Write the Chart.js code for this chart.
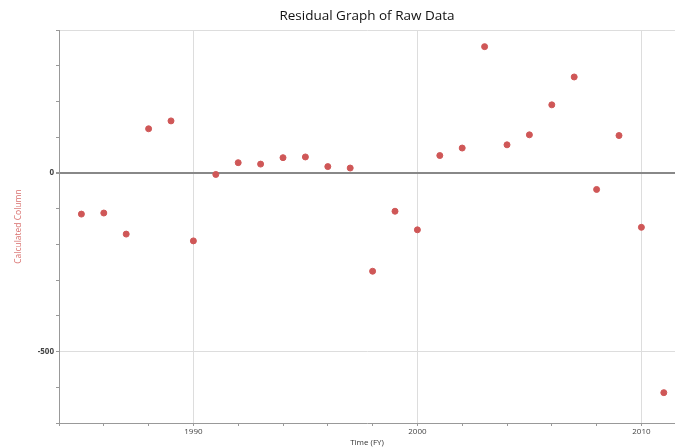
<!DOCTYPE html>
<html>
<head>
<meta charset="utf-8">
<script src="https://cdn.jsdelivr.net/npm/chart.js@4.4.0/dist/chart.umd.min.js"></script>
<style>
  html, body { margin: 0; padding: 0; background: #fff; }
  #wrap { width: 675px; height: 448px; }
</style>
</head>
<body>
<div id="wrap"><canvas id="myChart"></canvas></div>
<script>
// residuals, one per fiscal year
var years = [1985, 1986, 1987, 1988, 1989, 1990, 1991, 1992, 1993, 1994, 1995, 1996, 1997, 1998,
  1999, 2000, 2001, 2002, 2003, 2004, 2005, 2006, 2007, 2008, 2009, 2010, 2011];
var residuals = [-115, -112, -171, 124, 146, -190, -4, 29, 25, 43, 45, 18, 14, -275,
  -107, -159, 49, 70, 354, 79, 107, 191, 269, -46, 105, -152, -615];
var xLabelYears = [1990, 2000, 2010];
var yLabelValues = [0, -500];

var points = years.map(function (y, i) { return { x: y, y: residuals[i] }; });

new Chart("myChart", {
  type: "scatter",
  data: {
    datasets: [{
      data: points,
      backgroundColor: "#cf5757",
      borderColor: "#cf5757",
      pointRadius: 3,
      pointHoverRadius: 3
    }]
  },
  options: {
    responsive: true,
    maintainAspectRatio: false,
    animation: false,
    layout: { padding: 0, autoPadding: false },
    plugins: {
      legend: { display: false },
      tooltip: { enabled: false },
      title: {
        display: true,
        fullSize: false,
        text: "Residual Graph of Raw Data",
        color: "#111",
        font: { family: "Open Sans", size: 13.5, weight: "normal" },
        padding: { top: 8, bottom: 6 }
      }
    },
    scales: {
      x: {
        type: "linear",
        min: 1984,
        max: 2011.5,
        afterBuildTicks: function (scale) {
          var t = [];
          for (var v = 1984; v <= 2010; v += 2) t.push({ value: v });
          scale.ticks = t;
        },
        afterFit: function (scale) {
          scale.height = 25;
          scale.paddingLeft = 0;
          scale.paddingRight = 0;
        },
        border: { color: "#999", width: 1 },
        grid: {
          color: function (ctx) {
            return ctx.tick && xLabelYears.indexOf(ctx.tick.value) >= 0 ? "#dddddd" : "rgba(0,0,0,0)";
          },
          tickColor: "#999",
          tickLength: 3
        },
        ticks: {
          padding: 1,
          maxRotation: 0,
          autoSkip: false,
          color: "#444",
          font: { family: "Open Sans", size: 8 },
          callback: function (v) { return xLabelYears.indexOf(v) >= 0 ? String(v) : ""; }
        },
        title: {
          display: true,
          text: "Time (FY)",
          color: "#333",
          font: { family: "Open Sans", size: 8 },
          padding: { top: 0, bottom: 0 }
        }
      },
      y: {
        min: -700,
        max: 400,
        afterFit: function (scale) { scale.width = 59; },
        border: { color: "#999", width: 1 },
        grid: {
          color: function (ctx) {
            if (!ctx.tick) return "rgba(0,0,0,0)";
            if (ctx.tick.value === 0) return "#888888";
            if (ctx.tick.value === -500 || ctx.tick.value === 400) return "#dddddd";
            return "rgba(0,0,0,0)";
          },
          lineWidth: function (ctx) {
            return ctx.tick && ctx.tick.value === 0 ? 2 : 1;
          },
          tickColor: "#999",
          tickLength: 3
        },
        ticks: {
          stepSize: 100,
          padding: 2,
          color: "#444",
          font: { family: "Open Sans", size: 8, weight: "bold" },
          callback: function (v) { return yLabelValues.indexOf(v) >= 0 ? String(v) : ""; }
        },
        title: {
          display: true,
          text: "Calculated Column",
          color: "#d9706e",
          font: { family: "Open Sans", size: 8.5 },
          padding: { top: 13, bottom: 6 }
        }
      }
    }
  }
});
</script>
</body>
</html>
